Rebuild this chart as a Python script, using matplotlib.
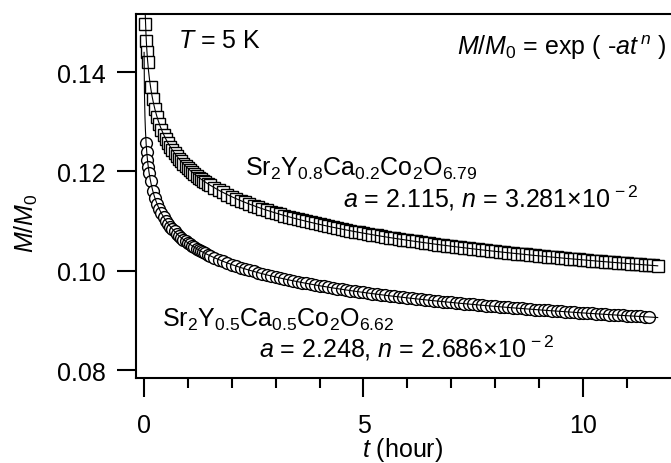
import numpy as np
import matplotlib
matplotlib.use("Agg")
import matplotlib.pyplot as plt

plt.rcParams['font.family'] = ['Liberation Sans', 'DejaVu Sans']
plt.rcParams['mathtext.fontset'] = 'custom'
plt.rcParams['mathtext.rm'] = 'Liberation Sans'
plt.rcParams['mathtext.it'] = 'Liberation Sans:italic'

# Sr2Y0.8Ca0.2Co2O6.79 (squares)
t_sq = [0.035, 0.055, 0.075, 0.09, 0.15,
        0.20, 0.25, 0.30, 0.35, 0.40, 0.45, 0.50, 0.55, 0.60, 0.65,
        0.70, 0.75, 0.80, 0.85, 0.90, 0.95, 1.00, 1.05, 1.10, 1.15,
        1.20, 1.25, 1.30, 1.35, 1.40, 1.45, 1.50,
        1.6, 1.7, 1.8, 1.9, 2.0, 2.1, 2.2, 2.3, 2.4, 2.5,
        2.6, 2.7, 2.8, 2.9, 3.0, 3.1, 3.2, 3.3, 3.4, 3.5,
        3.6, 3.7, 3.8, 3.9, 4.0, 4.1, 4.2, 4.3, 4.4, 4.5,
        4.6, 4.7, 4.8, 4.9, 5.0, 5.1, 5.2, 5.3, 5.4, 5.5,
        5.6, 5.7, 5.8, 5.9, 6.0, 6.1, 6.2, 6.3, 6.4, 6.5,
        6.6, 6.7, 6.8, 6.9, 7.0, 7.1, 7.2, 7.3, 7.4, 7.5,
        7.6, 7.7, 7.8, 7.9, 8.0, 8.1, 8.2, 8.3, 8.4, 8.5,
        8.6, 8.7, 8.8, 8.9, 9.0, 9.1, 9.2, 9.3, 9.4, 9.5,
        9.6, 9.7, 9.8, 9.9, 10.0, 10.1, 10.2, 10.3, 10.4, 10.5,
        10.6, 10.7, 10.8, 10.9, 11.0, 11.1, 11.2, 11.3, 11.4, 11.5,
        11.6, 11.7]
m_sq = [0.1497, 0.1462, 0.1440, 0.1420, 0.1370,
        0.13449, 0.13252, 0.13093, 0.12959, 0.12843, 0.12741, 0.12651, 0.12569, 0.12495, 0.12427,
        0.12364, 0.12305, 0.12251, 0.12200, 0.12152, 0.12106, 0.12063, 0.12023, 0.11984, 0.11947,
        0.11911, 0.11877, 0.11845, 0.11814, 0.11783, 0.11754, 0.11726,
        0.11673, 0.11624, 0.11577, 0.11532, 0.11491, 0.11451, 0.11413, 0.11377, 0.11342, 0.11309,
        0.11278, 0.11247, 0.11218, 0.11190, 0.11163, 0.11136, 0.11111, 0.11086, 0.11062, 0.11039,
        0.11017, 0.10995, 0.10974, 0.10953, 0.10933, 0.10913, 0.10894, 0.10876, 0.10858, 0.10840,
        0.10823, 0.10806, 0.10789, 0.10773, 0.10757, 0.10741, 0.10726, 0.10711, 0.10697, 0.10682,
        0.10668, 0.10654, 0.10640, 0.10627, 0.10614, 0.10601, 0.10589, 0.10576, 0.10564, 0.10552,
        0.10540, 0.10528, 0.10517, 0.10506, 0.10494, 0.10483, 0.10472, 0.10462, 0.10451, 0.10441,
        0.10431, 0.10421, 0.10411, 0.10401, 0.10391, 0.10382, 0.10372, 0.10363, 0.10354, 0.10344,
        0.10336, 0.10327, 0.10318, 0.10309, 0.10301, 0.10292, 0.10284, 0.10276, 0.10267, 0.10259,
        0.10251, 0.10243, 0.10235, 0.10228, 0.10220, 0.10212, 0.10205, 0.10198, 0.10190, 0.10183,
        0.10176, 0.10169, 0.10162, 0.10154, 0.10148, 0.10141, 0.10134, 0.10127, 0.10120, 0.10114,
        0.10107, 0.10101]

# Sr2Y0.5Ca0.5Co2O6.62 (circles)
t_ci = [0.05, 0.065, 0.08, 0.10, 0.12, 0.15,
        0.20, 0.25, 0.30, 0.35, 0.40, 0.45, 0.50, 0.55, 0.60, 0.65,
        0.70, 0.75, 0.80, 0.85, 0.90, 0.95, 1.00, 1.05, 1.10, 1.15,
        1.20, 1.25, 1.30, 1.35, 1.40, 1.45, 1.50,
        1.6, 1.7, 1.8, 1.9, 2.0, 2.1, 2.2, 2.3, 2.4, 2.5,
        2.6, 2.7, 2.8, 2.9, 3.0, 3.1, 3.2, 3.3, 3.4, 3.5,
        3.6, 3.7, 3.8, 3.9, 4.0, 4.1, 4.2, 4.3, 4.4, 4.5,
        4.6, 4.7, 4.8, 4.9, 5.0, 5.1, 5.2, 5.3, 5.4, 5.5,
        5.6, 5.7, 5.8, 5.9, 6.0, 6.1, 6.2, 6.3, 6.4, 6.5,
        6.6, 6.7, 6.8, 6.9, 7.0, 7.1, 7.2, 7.3, 7.4, 7.5,
        7.6, 7.7, 7.8, 7.9, 8.0, 8.1, 8.2, 8.3, 8.4, 8.5,
        8.6, 8.7, 8.8, 8.9, 9.0, 9.1, 9.2, 9.3, 9.4, 9.5,
        9.6, 9.7, 9.8, 9.9, 10.0, 10.1, 10.2, 10.3, 10.4, 10.5,
        10.6, 10.7, 10.8, 10.9, 11.0, 11.1, 11.2, 11.3, 11.4, 11.5]
m_ci = [0.12563, 0.12381, 0.12237, 0.12084, 0.11960, 0.11808,
        0.11614, 0.11465, 0.11344, 0.11242, 0.11154, 0.11077, 0.11008, 0.10946, 0.10890, 0.10838,
        0.10790, 0.10745, 0.10704, 0.10665, 0.10628, 0.10594, 0.10561, 0.10530, 0.10500, 0.10472,
        0.10445, 0.10419, 0.10394, 0.10371, 0.10348, 0.10326, 0.10304,
        0.10264, 0.10226, 0.10190, 0.10156, 0.10124, 0.10094, 0.10065, 0.10037, 0.10011, 0.09986,
        0.09962, 0.09938, 0.09916, 0.09894, 0.09874, 0.09853, 0.09834, 0.09815, 0.09797, 0.09779,
        0.09762, 0.09745, 0.09729, 0.09713, 0.09698, 0.09683, 0.09668, 0.09654, 0.09640, 0.09626,
        0.09613, 0.09600, 0.09587, 0.09575, 0.09563, 0.09551, 0.09539, 0.09528, 0.09517, 0.09506,
        0.09495, 0.09484, 0.09474, 0.09463, 0.09453, 0.09443, 0.09434, 0.09424, 0.09415, 0.09406,
        0.09397, 0.09388, 0.09379, 0.09370, 0.09361, 0.09353, 0.09345, 0.09336, 0.09328, 0.09321,
        0.09313, 0.09305, 0.09297, 0.09290, 0.09282, 0.09275, 0.09268, 0.09260, 0.09253, 0.09246,
        0.09240, 0.09233, 0.09226, 0.09219, 0.09213, 0.09206, 0.09200, 0.09193, 0.09187, 0.09181,
        0.09175, 0.09169, 0.09163, 0.09157, 0.09151, 0.09145, 0.09139, 0.09133, 0.09128, 0.09122,
        0.09117, 0.09111, 0.09106, 0.09100, 0.09095, 0.09090, 0.09084, 0.09079, 0.09074, 0.09069]

# fit parameters M/M0 = exp(-a t^n)
a_sq, n_sq = 2.115, 3.281e-2
a_ci, n_ci = 2.248, 2.686e-2

fig = plt.figure(figsize=(6.71, 4.64), dpi=100)
ax = fig.add_axes([0.2027, 0.1832, 0.7958, 0.7845])

ax.plot(t_sq, m_sq, 's', ms=8, mfc='white', mec='black', mew=1.0, zorder=2)
ax.plot(t_ci, m_ci, 'o', ms=8.5, mfc='white', mec='black', mew=1.0, zorder=2)

tf = np.linspace(0.004, 11.7, 3000)
ax.plot(tf, np.exp(-a_sq * tf**n_sq), 'k-', lw=0.8, zorder=3)
ax.plot(tf, np.exp(-a_ci * tf**n_ci), 'k-', lw=0.8, zorder=3)

ax.set_xlim(-0.18, 11.98)
ax.set_ylim(0.0784, 0.1517)

ax.spines['right'].set_visible(False)
for s in ['left', 'bottom', 'top']:
    ax.spines[s].set_linewidth(1.5)

ax.set_xticks([0, 5, 10])
ax.set_xticks(range(0, 12), minor=True)
ax.set_yticks([0.08, 0.10, 0.12, 0.14])
ax.set_yticklabels(['0.08', '0.10', '0.12', '0.14'])
ax.tick_params(axis='both', which='major', direction='out', length=14, width=1.5,
               labelsize=18)
ax.tick_params(axis='x', which='major', pad=11)
ax.tick_params(axis='y', which='major', pad=8)
ax.tick_params(axis='x', which='minor', direction='out', length=7, width=1.5)

ax.set_xlabel('$t$ (hour)', fontsize=18, labelpad=-1)
ax.set_ylabel('$M/M_0$', fontsize=18)
ax.yaxis.set_label_coords(-0.18, 0.429)

fs = 18
ax.text(0.079, 0.909, '$T$ = 5 K', transform=ax.transAxes, fontsize=fs, va='baseline')
ax.text(0.994, 0.890, r'$M/M_0$ = exp ( -$at^{\,n}$ )', transform=ax.transAxes,
        fontsize=fs, ha='right', va='baseline')
ax.text(0.205, 0.558, r'Sr$_2$Y$_{0.8}$Ca$_{0.2}$Co$_2$O$_{6.79}$', transform=ax.transAxes,
        fontsize=fs, va='baseline')
ax.text(0.388, 0.4725, '$a$ = 2.115, $n$ = 3.281\u00d710$^{\\,-2}$', transform=ax.transAxes,
        fontsize=fs, va='baseline')
ax.text(0.049, 0.143, r'Sr$_2$Y$_{0.5}$Ca$_{0.5}$Co$_2$O$_{6.62}$', transform=ax.transAxes,
        fontsize=fs, va='baseline')
ax.text(0.230, 0.058, '$a$ = 2.248, $n$ = 2.686\u00d710$^{\\,-2}$', transform=ax.transAxes,
        fontsize=fs, va='baseline')

fig.savefig('out.png', dpi=100)
